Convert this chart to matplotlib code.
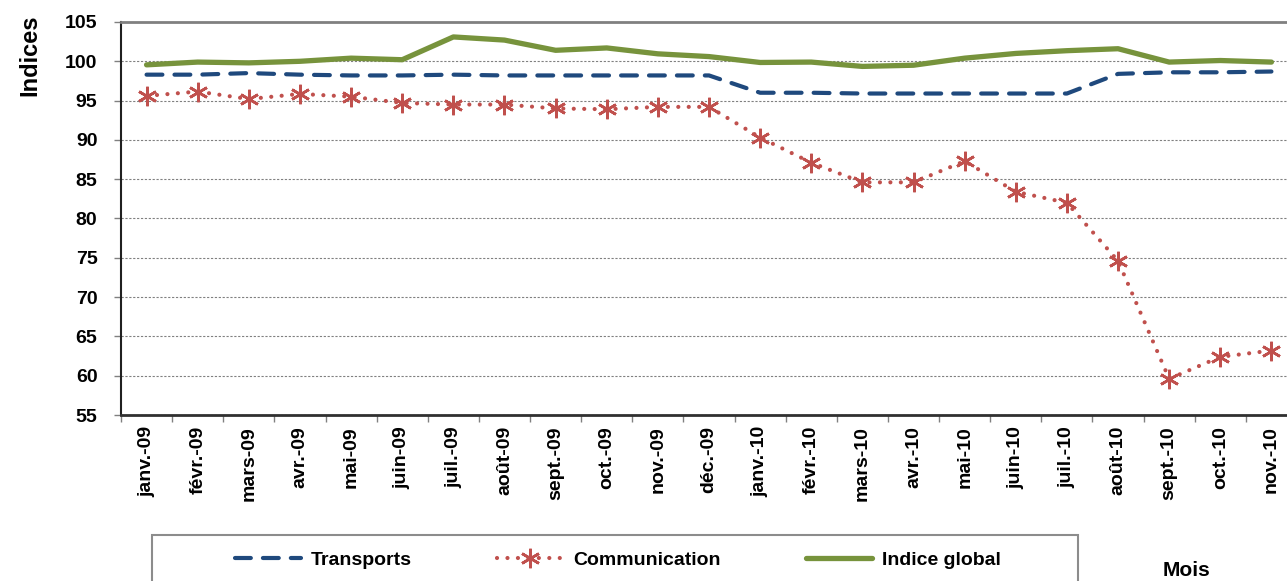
import numpy as np
import matplotlib
matplotlib.use("Agg")
import matplotlib.pyplot as plt
from matplotlib.patches import Rectangle

plt.rcParams['font.family'] = ['Liberation Sans', 'DejaVu Sans']
plt.rcParams['font.weight'] = 'bold'

# months on the x axis
months = ['janv.-09', 'févr.-09', 'mars-09', 'avr.-09', 'mai-09', 'juin-09',
          'juil.-09', 'août-09', 'sept.-09', 'oct.-09', 'nov.-09', 'déc.-09',
          'janv.-10', 'févr.-10', 'mars-10', 'avr.-10', 'mai-10', 'juin-10',
          'juil.-10', 'août-10', 'sept.-10', 'oct.-10', 'nov.-10']

# index values
transports = [98.3, 98.3, 98.5, 98.3, 98.2, 98.2, 98.3, 98.2, 98.2, 98.2, 98.2, 98.2,
              96.0, 96.0, 95.9, 95.9, 95.9, 95.9, 95.9, 98.4, 98.6, 98.6, 98.7]
communication = [95.6, 96.15, 95.2, 95.85, 95.5, 94.7, 94.5, 94.5, 94.0, 93.9, 94.2, 94.2,
                 90.3, 87.1, 84.6, 84.6, 87.3, 83.4, 82.0, 74.6, 59.6, 62.4, 63.2]
indice_global = [99.55, 99.9, 99.8, 100.0, 100.4, 100.2, 103.1, 102.7, 101.4, 101.7, 100.95, 100.6,
                 99.85, 99.9, 99.35, 99.5, 100.4, 101.0, 101.35, 101.6, 99.9, 100.1, 99.9]

W, H = 1287, 581
fig = plt.figure(figsize=(W / 100, H / 100), dpi=100)
# plot area runs past the right edge of the picture, as in the original crop
ax = fig.add_axes([121 / W, 1 - 415 / H, 1176 / W, 393 / H])

x = np.arange(len(months))
l1, = ax.plot(x, transports, color='#1F497D', lw=3.0, linestyle=(0, (3.8, 2.9)),
              dash_capstyle='round', label='Transports')
l2, = ax.plot(x, communication, color='#C0504D', lw=3.0, linestyle=(0, (0.01, 2.5)),
              dash_capstyle='round', marker=(6, 2, 0), markersize=14,
              markeredgewidth=1.9, label='Communication')
l3, = ax.plot(x, indice_global, color='#77933C', lw=3.8, solid_capstyle='round',
              label='Indice global')

ax.set_xlim(-0.5, len(months) - 0.5)
ax.set_ylim(55, 105)
ax.set_yticks(np.arange(55, 106, 5))
ax.yaxis.grid(True, color='#808080', linestyle=(0, (2, 1.5)), lw=0.8)
ax.set_axisbelow(True)

ax.set_xticks(x)
ax.set_xticklabels(months, rotation=90, fontsize=14, fontweight='bold')
ax.set_xticks(np.arange(-0.5, len(months), 1), minor=True)
ax.tick_params(axis='x', which='major', length=0, pad=8)
ax.tick_params(axis='x', which='minor', length=5, width=1, color='#808080', direction='out')
ax.tick_params(axis='y', length=5, width=1, color='#808080', pad=12, labelsize=14)
for t in ax.get_yticklabels():
    t.set_fontweight('bold')

ax.spines['left'].set_color('#202020')
ax.spines['left'].set_linewidth(1.5)
ax.spines['bottom'].set_color('#303030')
ax.spines['bottom'].set_linewidth(2)
ax.spines['top'].set_color('#808080')
ax.spines['top'].set_linewidth(2)
ax.spines['right'].set_color('#808080')

fig.text(30 / W, 1 - 55 / H, 'Indices', rotation=90, ha='center', va='center',
         fontsize=17, fontweight='bold')
fig.text(1187 / W, 1 - 570 / H, 'Mois', ha='center', va='center',
         fontsize=15, fontweight='bold')

# legend frame, cut by the bottom edge
fig.patches.append(Rectangle((152 / W, -0.05), (1078 - 152) / W, 1.05 - 535 / H,
                             transform=fig.transFigure, fill=False,
                             edgecolor='#8c8c8c', lw=1.5))
fig.legend(handles=[l1, l2, l3], loc='center', bbox_to_anchor=(618 / W, 1 - 560 / H),
           ncol=3, frameon=False, handlelength=3.4, handletextpad=0.5,
           columnspacing=4.4, prop={'weight': 'bold', 'size': 14})

fig.savefig('out.png', dpi=100)
